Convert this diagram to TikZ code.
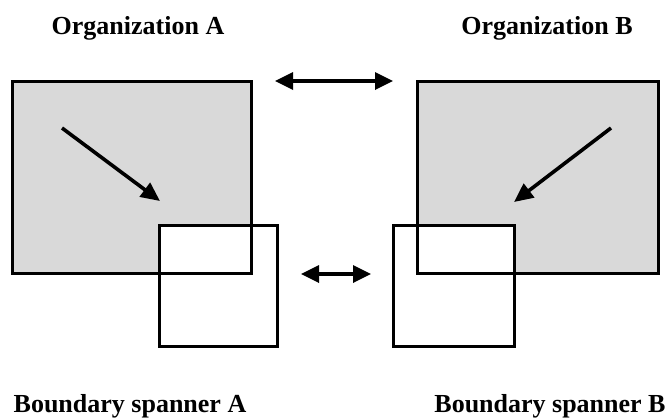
\documentclass[tikz,border=0pt]{standalone}
\usepackage{fontspec}
\setmainfont{Liberation Serif}
\usetikzlibrary{arrows.meta}
\begin{document}
\begin{tikzpicture}[x=1pt,y=-1pt,
  orgbox/.style={fill=black!15,draw=none,minimum width=239pt,minimum height=192pt,inner sep=0pt,outer sep=0pt},
  spanbox/.style={fill=white,draw=black,line width=3pt,minimum width=118pt,minimum height=121pt,inner sep=0pt,outer sep=0pt},
  border/.style={draw=black,line width=3pt},
  flow/.style={line width=3.6pt,-{Triangle[length=19pt,width=17pt]}},
  link/.style={line width=3.4pt,{Triangle[length=18pt,width=17pt]}-{Triangle[length=18pt,width=17pt]}},
  lbl/.style={font=\bfseries\fontsize{26}{30}\selectfont,anchor=base,inner sep=0pt}]
\useasboundingbox[fill=white] (0,0) rectangle (669,418);
% organizations
\node[orgbox] (orgA) at (131.5,177) {};
\node[orgbox,minimum width=241pt] (orgB) at (537.5,177) {};
% boundary spanners
\node[spanbox] (spA) at (218,285.5) {};
\node[spanbox,minimum width=121pt] (spB) at (453.5,285.5) {};
% redraw organization borders on top
\draw[border] (orgA.south west) rectangle (orgA.north east);
\draw[border] (orgB.south west) rectangle (orgB.north east);
% arrows
\coordinate (a1) at (62,128);
\coordinate (a2) at (160,201);
\coordinate (b1) at (611,128);
\coordinate (b2) at (514,202);
\draw[flow] (a1) -- (a2);
\draw[flow] (b1) -- (b2);
\coordinate (t1) at (275,81);
\coordinate (t2) at (393,81);
\draw[link] (t1) -- (t2);
\coordinate (m1) at (301,274);
\coordinate (m2) at (371,274);
\draw[link] (m1) -- (m2);
% labels
\node[lbl] (lA) at (138,34) {Organization A};
\node[lbl] (lB) at (547,34) {Organization B};
\node[lbl] (lsA) at (130,412) {Boundary spanner A};
\node[lbl] (lsB) at (550,412) {Boundary spanner B};
\end{tikzpicture}
\end{document}
